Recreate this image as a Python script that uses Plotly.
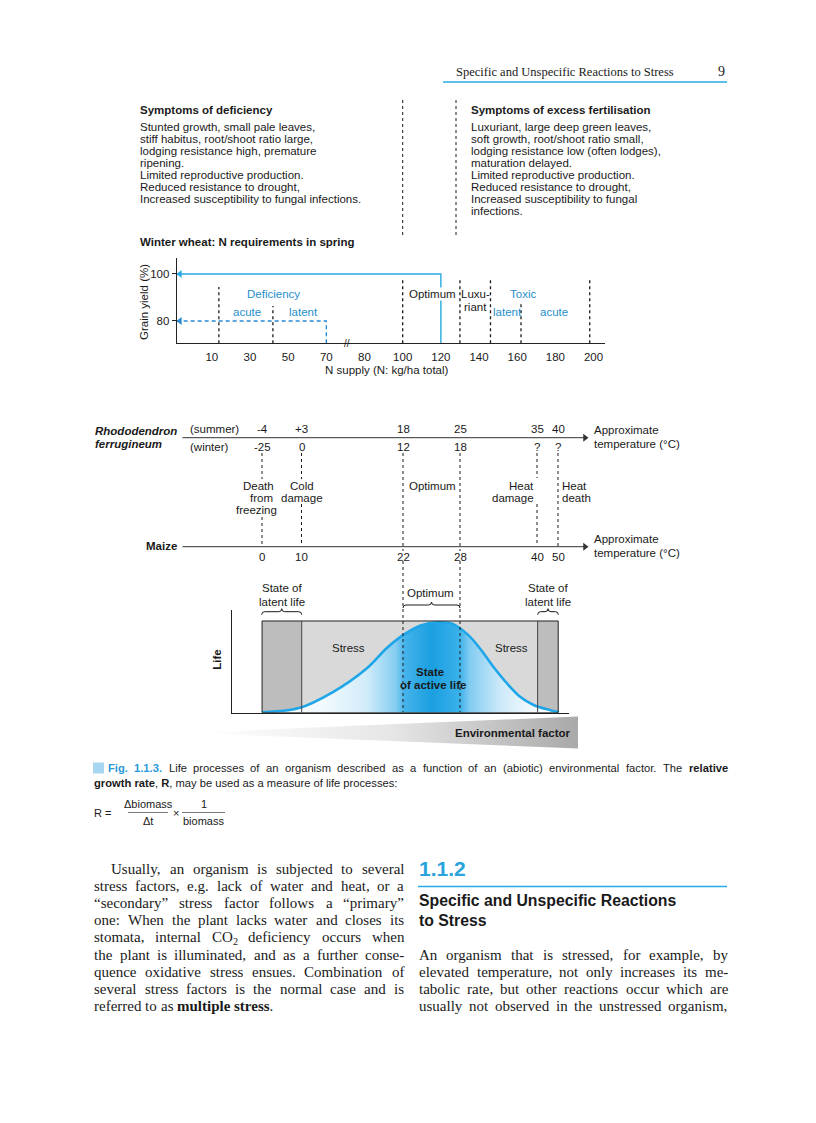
import re
import numpy as np
import plotly.graph_objects as go

W, H = 816, 1123
OFF = 8  # the page body margin shifts the figure by 8 px

# ------------------------------------------------------------------ data
# Winter wheat: N requirements in spring
n_tick_values = [10, 30, 50, 70, 80, 100, 120, 140, 160, 180, 200]
n_tick_labels = ['10', '30', '50', '70', '80', '100', '120', '140', '160', '180', '200']
yield_tick_values = [80, 100]
yield_tick_labels = ['80', '100']
optimum_n, optimum_yield = 120, 100
latent_n, latent_yield = 70, 80
zone_limits_n = [13.7, 42, 100, 130, 146, 162, 198]
zone_limits_top = [94.5, 86.4, 97.4, 97.4, 97.4, 88, 97.4]
zone_labels = ['Deficiency', 'acute', 'latent', 'Optimum', 'Luxu-', 'riant', 'Toxic', 'latent', 'acute']
zone_label_n = [42.2, 28.4, 58, 115.4, 138, 138, 162.8, 154.8, 179.2]
zone_label_yield = [91.4, 84, 84, 91.4, 91.4, 86.1, 91.4, 84, 84]
zone_label_blue = [True, True, True, False, False, False, True, True, True]

# Temperature thresholds
rhodo_summer = ['-4', '+3', '18', '25', '35', '40']
rhodo_winter = ['-25', '0', '12', '18', '?', '?']
maize_temps = ['0', '10', '22', '28', '40', '50']

# Life curve vs environmental factor (0-100 schematic units)
env_factor = [9, 20, 30, 40, 46, 51, 56, 61, 65.5, 70, 73.5, 77.5, 81.5, 85.5, 89.5, 94.5, 97]
life_rate = [0.5, 4.5, 20, 43, 63, 76, 85, 88, 86.5, 76, 63, 45, 29, 15.5, 7.5, 2.5, 0.5]
latent_left = [9.0, 20.75]
optimum_zone = [50.8, 67.7]
latent_right = [90.7, 96.8]
life_box_top = 89.3

# Texts
deficiency_lines = ['Stunted growth, small pale leaves,', 'stiff habitus, root/shoot ratio large,',
                    'lodging resistance high, premature', 'ripening.', 'Limited reproductive production.',
                    'Reduced resistance to drought,', 'Increased susceptibility to fungal infections.']
excess_lines = ['Luxuriant, large deep green leaves,', 'soft growth, root/shoot ratio small,',
                'lodging resistance low (often lodges),', 'maturation delayed.',
                'Limited reproductive production.', 'Reduced resistance to drought,',
                'Increased susceptibility to fungal', 'infections.']
caption_line1 = ('#Fig.# #1.1.3.# Life processes of an organism described as a function of an '
                 '(abiotic) environmental factor. The *relative*')
caption_line2 = '<b>growth rate</b>, <b>R</b>, may be used as a measure of life processes:'
left_body = ['Usually, an organism is subjected to several',
             'stress factors, e.g. lack of water and heat, or a',
             '“secondary” stress factor follows a “primary”',
             'one: When the plant lacks water and closes its',
             'stomata, internal CO₂ deficiency occurs when',
             'the plant is illuminated, and as a further conse-',
             'quence oxidative stress ensues. Combination of',
             'several stress factors is the normal case and is',
             'referred to as *multiple* *stress*.']
right_body = ['An organism that is stressed, for example, by',
              'elevated temperature, not only increases its me-',
              'tabolic rate, but other reactions occur which are',
              'usually not observed in the unstressed organism,']

# ------------------------------------------------------------------ style
INK = '#1a1a1a'
BLUE_TXT = '#1f8fcc'
BLUE_LINE = '#29abe2'
BLUE_DASH = '#2a8ad2'
SANS = 'Liberation Sans'
SERIF = 'Liberation Serif'
FW, FH = W - OFF, H - OFF


def px_x(p):
    return (p - OFF) / FW


def px_y(p):
    return 1 - (p - OFF) / FH


def _mk(lower, upper, extra):
    d = dict(zip('abcdefghijklmnopqrstuvwxyz', lower))
    d.update(dict(zip('ABCDEFGHIJKLMNOPQRSTUVWXYZ', upper)))
    d.update(extra)
    return d


_pun_t = {' ': 250, ',': 250, '.': 250, ':': 278, ';': 278, '-': 333, '“': 444, '”': 444,
          '(': 333, ')': 333, '₂': 350, '/': 278}
_pun_t.update({c: 500 for c in '0123456789'})
TIMES_R = _mk([444, 500, 444, 500, 444, 333, 500, 500, 278, 278, 500, 278, 778, 500, 500, 500, 500, 333, 389, 278, 500, 500, 722, 500, 500, 444],
              [722, 667, 667, 722, 611, 556, 722, 722, 333, 389, 722, 611, 889, 722, 722, 556, 722, 667, 556, 611, 722, 722, 944, 722, 722, 611], _pun_t)
TIMES_B = _mk([500, 556, 444, 556, 444, 333, 500, 556, 278, 333, 556, 278, 833, 556, 500, 556, 556, 444, 389, 333, 556, 500, 722, 500, 500, 444],
              [722, 667, 722, 722, 667, 611, 778, 778, 389, 500, 778, 667, 944, 722, 778, 611, 778, 722, 556, 667, 722, 722, 1000, 722, 722, 667], _pun_t)
_pun_h = {' ': 278, ',': 278, '.': 278, ':': 278, ';': 278, '-': 333, '(': 333, ')': 333, '/': 278}
_pun_h.update({c: 556 for c in '0123456789'})
HELV_R = _mk([556, 556, 500, 556, 556, 278, 556, 556, 222, 222, 500, 222, 833, 556, 556, 556, 556, 333, 500, 278, 556, 500, 722, 500, 500, 500],
             [667, 667, 722, 722, 667, 611, 778, 722, 278, 500, 667, 556, 833, 722, 778, 667, 778, 722, 667, 611, 722, 667, 944, 667, 667, 611], _pun_h)
HELV_B = _mk([556, 611, 556, 611, 556, 333, 611, 611, 278, 278, 556, 278, 889, 611, 611, 611, 611, 389, 556, 333, 611, 556, 778, 556, 556, 500],
             [722, 722, 722, 722, 667, 611, 778, 722, 278, 556, 722, 611, 833, 722, 778, 667, 778, 722, 667, 611, 722, 667, 944, 667, 667, 611], _pun_h)

annotations = []
shapes = []


def txt(x, y, s, size=11.5, bold=False, italic=False, color=INK, xa='left', ya='middle',
        family=SANS, xref='x', yref='y', angle=0, bg=None):
    if bold:
        s = '<b>' + s + '</b>'
    if italic:
        s = '<i>' + s + '</i>'
    a = dict(x=x, y=y, xref=xref, yref=yref, text=s, showarrow=False,
             xanchor=xa, yanchor=ya, borderpad=0, textangle=angle,
             font=dict(family=family, size=size, color=color))
    if bg:
        a['bgcolor'] = bg
    annotations.append(a)


def word_parts(word):
    parts = []
    for seg in re.split(r'(\*[^*]+\*|#[^#]+#)', word):
        if not seg:
            continue
        if seg.startswith('*'):
            parts.append((seg[1:-1], 'b'))
        elif seg.startswith('#'):
            parts.append((seg[1:-1], 'c'))
        else:
            parts.append((seg, 'r'))
    return parts


def set_line(line, x0, x1, y, size, family, mr, mb, justify=True, accent=BLUE_TXT):
    words = line.split(' ')
    widths, htmls = [], []
    for w in words:
        tot, html = 0.0, ''
        for seg, st in word_parts(w):
            m = mr if st == 'r' else mb
            tot += sum(m.get(ch, 500) for ch in seg) * size / 1000
            s = seg
            if st == 'b':
                s = '<b>' + s + '</b>'
            elif st == 'c':
                s = '<b><span style="color:%s">%s</span></b>' % (accent, s)
            html += s
        widths.append(tot)
        htmls.append(html)
    if justify and len(words) > 1:
        gap = (x1 - x0 - sum(widths)) / (len(words) - 1)
    else:
        gap = mr[' '] * size / 1000
    x = x0
    for w, h in zip(widths, htmls):
        if '₂' in h:  # chemical subscript drawn as a small lowered digit
            base = h.replace('₂', '')
            bw = sum(mr.get(ch, 500) for ch in base) * size / 1000
            txt(x, y, base, size=size, family=family)
            txt(x + bw + 0.3, y + 4, '2', size=size * 0.68, family=family)
        else:
            txt(x, y, h, size=size, family=family)
        x += w + gap


def n_to_pos(n):
    return np.interp(n, n_tick_values, np.arange(len(n_tick_values)))


fig = go.Figure()

# ------------------------------------------------------------------ page header
txt(455, 72, 'Specific and Unspecific Reactions to Stress', size=12.5, family=SERIF)
txt(721, 71, '9', size=14, family=SERIF, xa='center')
shapes.append(dict(type='line', xref='x', yref='y', x0=443, x1=727, y0=82, y1=82,
                   line=dict(color=BLUE_LINE, width=1.5)))

# ------------------------------------------------------------------ symptom blocks
txt(139, 110, 'Symptoms of deficiency', bold=True)
for i, s in enumerate(deficiency_lines):
    txt(139, 126.7 + 12.1 * i, s)
txt(470, 110, 'Symptoms of excess fertilisation', bold=True)
for i, s in enumerate(excess_lines):
    txt(470, 126.7 + 12.1 * i, s)
for xx in (402.7, 456):
    shapes.append(dict(type='line', xref='x', yref='y', x0=xx, x1=xx, y0=100, y1=235,
                       line=dict(color=INK, width=1, dash='dot')))
txt(139, 241.7, 'Winter wheat: N requirements in spring', bold=True)

# ------------------------------------------------------------------ top chart (x2/y2)
x2_dom = (176.7, 605)
x2_range = [-0.92, 10.3]
y2_range = [70.5, 106.8]
idx_per_px = (x2_range[1] - x2_range[0]) / (x2_dom[1] - x2_dom[0])
zx, zy = [], []
for n, top in zip(zone_limits_n, zone_limits_top):
    p = float(n_to_pos(n))
    zx += [p, p, None]
    zy += [y2_range[0], top, None]
fig.add_trace(go.Scatter(x=zx, y=zy, xaxis='x2', yaxis='y2', mode='lines', hoverinfo='skip',
                         line=dict(color=INK, width=1.3, dash='dot'), showlegend=False))
po = float(n_to_pos(optimum_n))
fig.add_trace(go.Scatter(x=[po, po, x2_range[0]], y=[y2_range[0], optimum_yield, optimum_yield],
                         xaxis='x2', yaxis='y2', mode='lines', line=dict(color=BLUE_LINE, width=1.4),
                         hoverinfo='skip', showlegend=False))
pl = float(n_to_pos(latent_n))
fig.add_trace(go.Scatter(x=[pl, pl, x2_range[0]], y=[y2_range[0], latent_yield, latent_yield],
                         xaxis='x2', yaxis='y2', mode='lines',
                         line=dict(color=BLUE_DASH, width=1.4, dash='4px,3px'),
                         hoverinfo='skip', showlegend=False))
# arrowheads touching the yield axis
fig.add_trace(go.Scatter(x=[x2_range[0] + 3.2 * idx_per_px] * 2, y=[optimum_yield, latent_yield],
                         xaxis='x2', yaxis='y2', mode='markers', hoverinfo='skip', showlegend=False,
                         marker=dict(symbol='triangle-left', size=7, color=[BLUE_LINE, BLUE_DASH],
                                     line=dict(width=0))))
for lab, n, yv, blue in zip(zone_labels, zone_label_n, zone_label_yield, zone_label_blue):
    txt(float(n_to_pos(n)), yv, lab, color=BLUE_TXT if blue else INK, xa='center',
        xref='x2', yref='y2', bg='white' if lab == 'Optimum' else None)
txt(float(n_to_pos(75.3)), y2_range[0], '//', size=10, xa='center', xref='x2', yref='y2')
txt(143.3, 301.7, 'Grain yield (%)', xa='center', angle=-90)
txt(386.7, 370, 'N supply (N: kg/ha total)', xa='center')

# ------------------------------------------------------------------ temperature thresholds
thr_x = [262, 301.5, 403, 460, 537, 558]
txt(94, 431, 'Rhododendron', bold=True, italic=True)
txt(94, 443.5, 'ferrugineum', bold=True, italic=True)
txt(189, 428.5, '(summer)')
txt(189, 446.5, '(winter)')
for xx, s, w in zip(thr_x, rhodo_summer, rhodo_winter):
    txt(xx, 428.5, s, xa='center')
    txt(xx, 446.5, w, xa='center')
txt(177.5, 546, 'Maize', bold=True, xa='right')
for xx, s in zip(thr_x, maize_temps):
    txt(xx, 556.5, s, xa='center')
for yy in (437.7, 546.7):
    fig.add_trace(go.Scatter(x=[182.5, 584], y=[yy, yy], xaxis='x', yaxis='y', mode='lines',
                             line=dict(color='#333', width=1), hoverinfo='skip', showlegend=False))
    fig.add_trace(go.Scatter(x=[585], y=[yy], xaxis='x', yaxis='y', mode='markers',
                             marker=dict(symbol='triangle-right', size=7, color='#333', line=dict(width=0)),
                             hoverinfo='skip', showlegend=False))
    txt(593, yy - 7.5, 'Approximate')
    txt(593, yy + 6, 'temperature (°C)')
segments = [[(453, 479), (517, 546)], [(453, 479), (504, 546)], [(453, 551), (561, 712)],
            [(453, 551), (561, 712)], [(453, 478), (504, 546)], [(453, 546)]]
for xx, segs in zip(thr_x, segments):
    for y0, y1 in segs:
        shapes.append(dict(type='line', xref='x', yref='y', x0=xx, x1=xx, y0=y0, y1=y1,
                           line=dict(color=INK, width=1, dash='dot'), layer='above'))
txt(258, 486, 'Death', xa='center')
txt(261, 498, 'from', xa='center')
txt(256, 510, 'freezing', xa='center')
txt(302, 486, 'Cold', xa='center')
txt(302, 498, 'damage', xa='center')
txt(408, 486, 'Optimum')
txt(535, 486, 'Heat', xa='right')
txt(535, 498, 'damage', xa='right')
txt(561, 486, 'Heat')
txt(561, 498, 'death')

# ------------------------------------------------------------------ life chart (x3/y3)
for (a, b), col in ((latent_left, '#bdbdbd'), ((latent_left[1], latent_right[0]), '#d9d9d9'),
                    (latent_right, '#bdbdbd')):
    shapes.append(dict(type='rect', xref='x3', yref='y3', x0=a, x1=b, y0=0, y1=life_box_top,
                       fillcolor=col, line=dict(width=0), layer='below'))
fig.add_trace(go.Scatter(x=env_factor, y=life_rate, xaxis='x3', yaxis='y3', mode='lines',
                         line=dict(color='#1ea6e8', width=2.6, shape='spline', smoothing=1),
                         fill='tozeroy',
                         fillgradient=dict(type='horizontal', colorscale=[
                             [0, '#ffffff'], [0.2, '#f3fafe'], [0.35, '#d2ecfa'], [0.45, '#86cdf1'],
                             [0.48, '#45b3ea'], [0.57, '#1a9fe0'], [0.665, '#3ab1ea'],
                             [0.7, '#82ccf1'], [0.8, '#cbe9f9'], [0.9, '#f0f9fd'], [1, '#ffffff']]),
                         hoverinfo='skip', showlegend=False))
shapes.append(dict(type='rect', xref='x3', yref='y3', x0=latent_left[0], x1=latent_right[1],
                   y0=0, y1=life_box_top, line=dict(color='#222', width=1), layer='above'))
for xx in (latent_left[1], latent_right[0]):
    shapes.append(dict(type='line', xref='x3', yref='y3', x0=xx, x1=xx, y0=0, y1=life_box_top,
                       line=dict(color='#444', width=1), layer='above'))


def brace(x0, x1, y):
    xm = (x0 + x1) / 2
    return ('M %.1f,%.1f Q %.1f,%.1f %.1f,%.1f L %.1f,%.1f Q %.1f,%.1f %.1f,%.1f '
            'Q %.1f,%.1f %.1f,%.1f L %.1f,%.1f Q %.1f,%.1f %.1f,%.1f') % (
        x0, y + 3, x0, y, x0 + 3, y, xm - 3, y, xm, y, xm, y - 3,
        xm, y, xm + 3, y, x1 - 3, y, x1, y, x1, y + 3)


for a, b, yy in ((261.7, 301.7, 611.7), (403, 460, 605), (537.7, 558.3, 611.7)):
    shapes.append(dict(type='path', xref='x', yref='y', path=brace(a, b, yy),
                       line=dict(color=INK, width=1)))
txt(281.7, 588.3, 'State of', xa='center')
txt(281.7, 601.7, 'latent life', xa='center')
txt(548.3, 588.3, 'State of', xa='center')
txt(548.3, 601.7, 'latent life', xa='center')
txt(430, 593.3, 'Optimum', xa='center')
txt(348.3, 648.3, 'Stress', xa='center')
txt(511.7, 648.3, 'Stress', xa='center')
txt(430, 671.7, 'State', bold=True, xa='center')
txt(433, 685, 'of active life', bold=True, xa='center')
txt(216.7, 660, 'Life', bold=True, xa='center', angle=-90)

# wedge "Environmental factor"
fig.add_trace(go.Scatter(x=[206, 578, 578, 206], y=[732, 716.5, 748.5, 733.5], xaxis='x', yaxis='y',
                         mode='lines', line=dict(width=0, color='rgba(0,0,0,0)'), fill='toself',
                         fillgradient=dict(type='horizontal', colorscale=[
                             [0, '#ffffff'], [0.5, '#e6e6e6'], [1, '#a9a9a9']]),
                         hoverinfo='skip', showlegend=False))
txt(571.7, 733.3, 'Environmental factor', bold=True, xa='right')

# ------------------------------------------------------------------ caption
shapes.append(dict(type='rect', xref='x', yref='y', x0=93, x1=104, y0=762.5, y1=773.5,
                   fillcolor='#a6d6f0', line=dict(width=0)))
set_line(caption_line1, 107, 727, 768, 11.2, SANS, HELV_R, HELV_B, justify=True, accent='#2a9ad8')
txt(93, 783, caption_line2, size=11.2)
txt(93, 812.5, 'R =', size=11)
txt(148, 804, 'Δbiomass', size=11, xa='center')
txt(148, 821, 'Δt', size=11, xa='center')
txt(175.5, 812.5, '×', size=11, xa='center')
txt(203.5, 804, '1', size=11, xa='center')
txt(203.5, 821, 'biomass', size=11, xa='center')
for a, b in ((128, 168), (182, 225)):
    shapes.append(dict(type='line', xref='x', yref='y', x0=a, x1=b, y0=812.5, y1=812.5,
                       line=dict(color='#555', width=0.8)))

# ------------------------------------------------------------------ body text
pitch = 17.1
for i, line in enumerate(left_body):
    x0 = 110 if i == 0 else 93
    set_line(line, x0, 403, 869 + pitch * i, 15, SERIF, TIMES_R, TIMES_B,
             justify=(i < len(left_body) - 1))
for i, line in enumerate(right_body):
    set_line(line, 418, 727, 869 + pitch * (i + 5), 15, SERIF, TIMES_R, TIMES_B, justify=True)
txt(418, 868, '1.1.2', size=21, bold=True, color='#29a3dc')
shapes.append(dict(type='line', xref='x', yref='y', x0=418, x1=727, y0=886.5, y1=886.5,
                   line=dict(color=BLUE_LINE, width=1.5)))
txt(418, 900, 'Specific and Unspecific Reactions', size=15.8, bold=True)
txt(418, 920, 'to Stress', size=15.8, bold=True)

# ------------------------------------------------------------------ layout
axis_font = dict(family=SANS, size=11.5, color=INK)
fig.update_layout(
    width=FW, height=FH, margin=dict(l=0, r=0, t=0, b=0),
    paper_bgcolor='white', plot_bgcolor='rgba(0,0,0,0)', showlegend=False,
    xaxis=dict(domain=[0, 1], range=[OFF, W], visible=False, fixedrange=True),
    yaxis=dict(domain=[0, 1], range=[H, OFF], visible=False, fixedrange=True),
    xaxis2=dict(domain=[px_x(x2_dom[0]), px_x(x2_dom[1])], range=x2_range, anchor='y2',
                showline=True, linecolor='#222', linewidth=1, showgrid=False, zeroline=False,
                tickvals=list(n_to_pos(n_tick_values)), ticktext=n_tick_labels,
                ticks='outside', ticklen=3, tickcolor='rgba(0,0,0,0)', tickfont=axis_font),
    yaxis2=dict(domain=[px_y(343.3), px_y(258)], range=y2_range, anchor='x2',
                showline=True, linecolor='#222', linewidth=1, showgrid=False, zeroline=False,
                tickvals=yield_tick_values, ticktext=yield_tick_labels,
                ticks='outside', ticklen=4, tickcolor='#222', tickfont=axis_font),
    xaxis3=dict(domain=[px_x(231.7), px_x(569)], range=[0, 100], anchor='y3',
                showline=True, linecolor='#222', linewidth=1.2, showgrid=False, zeroline=False,
                showticklabels=False, ticks=''),
    yaxis3=dict(domain=[px_y(712.7), px_y(610)], range=[0, 100], anchor='x3',
                showline=True, linecolor='#222', linewidth=1, showgrid=False, zeroline=False,
                showticklabels=False, ticks=''),
    annotations=annotations, shapes=shapes,
)
fig.write_html('out.html')
